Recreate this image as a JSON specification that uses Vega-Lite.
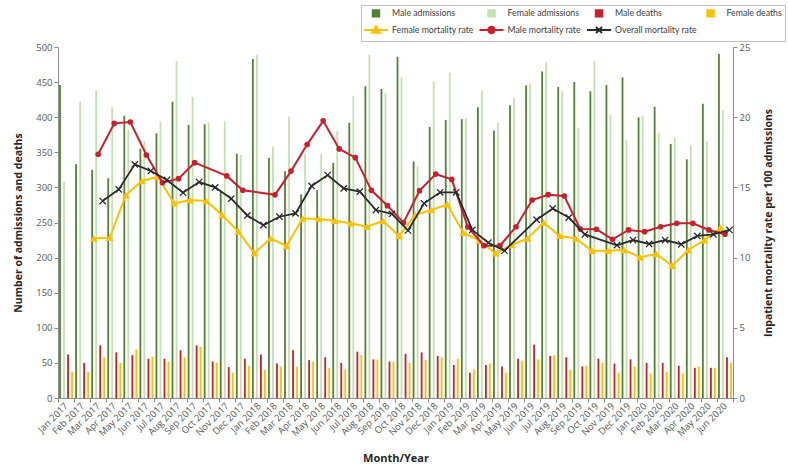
{
  "$schema": "https://vega.github.io/schema/vega-lite/v6.json",
  "width": 675,
  "height": 351,
  "autosize": {"type": "none"},
  "padding": {"left": 58, "top": 47, "right": 55, "bottom": 75},
  "background": "white",
  "config": {
    "font": "Open Sans",
    "view": {"stroke": null},
    "axis": {
      "labelFont": "Open Sans",
      "labelFontSize": 9.5,
      "labelColor": "#595959",
      "titleFont": "Open Sans",
      "titleFontSize": 10.5,
      "titleFontWeight": "bold",
      "titleColor": "#262626",
      "domainColor": "#8c8c8c",
      "tickColor": "#8c8c8c",
      "tickSize": 4,
      "grid": false
    }
  },
  "datasets": {
    "d": [
      {"month": "Jan 2017", "Male admissions": 446, "Female admissions": 308, "Male deaths": 62, "Female deaths": 37, "Female mortality rate": null, "Male mortality rate": null, "Overall mortality rate": null},
      {"month": "Feb 2017", "Male admissions": 333, "Female admissions": 422, "Male deaths": 50, "Female deaths": 37, "Female mortality rate": null, "Male mortality rate": null, "Overall mortality rate": null},
      {"month": "Mar 2017", "Male admissions": 325, "Female admissions": 438, "Male deaths": 75, "Female deaths": 58, "Female mortality rate": 11.37, "Male mortality rate": 17.36, "Overall mortality rate": 14.03},
      {"month": "Apr 2017", "Male admissions": 313, "Female admissions": 414, "Male deaths": 65, "Female deaths": 50, "Female mortality rate": 11.42, "Male mortality rate": 19.56, "Overall mortality rate": 14.86},
      {"month": "May 2017", "Male admissions": 402, "Female admissions": 382, "Male deaths": 61, "Female deaths": 69, "Female mortality rate": 14.46, "Male mortality rate": 19.66, "Overall mortality rate": 16.64},
      {"month": "Jun 2017", "Male admissions": 355, "Female admissions": 366, "Male deaths": 56, "Female deaths": 59, "Female mortality rate": 15.46, "Male mortality rate": 17.31, "Overall mortality rate": 16.17},
      {"month": "Jul 2017", "Male admissions": 377, "Female admissions": 394, "Male deaths": 56, "Female deaths": 52, "Female mortality rate": 15.76, "Male mortality rate": 15.34, "Overall mortality rate": 15.53},
      {"month": "Aug 2017", "Male admissions": 422, "Female admissions": 480, "Male deaths": 68, "Female deaths": 58, "Female mortality rate": 13.87, "Male mortality rate": 15.62, "Overall mortality rate": 14.62},
      {"month": "Sep 2017", "Male admissions": 389, "Female admissions": 429, "Male deaths": 75, "Female deaths": 73, "Female mortality rate": 14.1, "Male mortality rate": 16.76, "Overall mortality rate": 15.38},
      {"month": "Oct 2017", "Male admissions": 390, "Female admissions": 392, "Male deaths": 52, "Female deaths": 50, "Female mortality rate": 14.03, "Male mortality rate": null, "Overall mortality rate": 15.0},
      {"month": "Nov 2017", "Male admissions": 294, "Female admissions": 394, "Male deaths": 44, "Female deaths": 36, "Female mortality rate": 13.03, "Male mortality rate": 15.82, "Overall mortality rate": 14.2},
      {"month": "Dec 2017", "Male admissions": 348, "Female admissions": 346, "Male deaths": 56, "Female deaths": 46, "Female mortality rate": 11.85, "Male mortality rate": 14.8, "Overall mortality rate": 13.0},
      {"month": "Jan 2018", "Male admissions": 483, "Female admissions": 489, "Male deaths": 62, "Female deaths": 40, "Female mortality rate": 10.31, "Male mortality rate": null, "Overall mortality rate": 12.31},
      {"month": "Feb 2018", "Male admissions": 342, "Female admissions": 358, "Male deaths": 49, "Female deaths": 45, "Female mortality rate": 11.37, "Male mortality rate": 14.47, "Overall mortality rate": 12.91},
      {"month": "Mar 2018", "Male admissions": 323, "Female admissions": 401, "Male deaths": 68, "Female deaths": 45, "Female mortality rate": 10.83, "Male mortality rate": 16.16, "Overall mortality rate": 13.15},
      {"month": "Apr 2018", "Male admissions": 290, "Female admissions": 348, "Male deaths": 54, "Female deaths": 52, "Female mortality rate": 12.8, "Male mortality rate": 18.05, "Overall mortality rate": 15.1},
      {"month": "May 2018", "Male admissions": 296, "Female admissions": 348, "Male deaths": 58, "Female deaths": 43, "Female mortality rate": 12.75, "Male mortality rate": 19.74, "Overall mortality rate": 15.88},
      {"month": "Jun 2018", "Male admissions": 335, "Female admissions": 380, "Male deaths": 50, "Female deaths": 41, "Female mortality rate": 12.63, "Male mortality rate": 17.74, "Overall mortality rate": 14.93},
      {"month": "Jul 2018", "Male admissions": 392, "Female admissions": 430, "Male deaths": 66, "Female deaths": 61, "Female mortality rate": 12.44, "Male mortality rate": 17.12, "Overall mortality rate": 14.7},
      {"month": "Aug 2018", "Male admissions": 444, "Female admissions": 489, "Male deaths": 55, "Female deaths": 55, "Female mortality rate": 12.2, "Male mortality rate": 14.79, "Overall mortality rate": 13.39},
      {"month": "Sep 2018", "Male admissions": 440, "Female admissions": 435, "Male deaths": 52, "Female deaths": 52, "Female mortality rate": 12.61, "Male mortality rate": 13.7, "Overall mortality rate": 13.11},
      {"month": "Oct 2018", "Male admissions": 486, "Female admissions": 457, "Male deaths": 63, "Female deaths": 50, "Female mortality rate": 11.54, "Male mortality rate": 12.49, "Overall mortality rate": 11.93},
      {"month": "Nov 2018", "Male admissions": 337, "Female admissions": 330, "Male deaths": 65, "Female deaths": 54, "Female mortality rate": 13.05, "Male mortality rate": 14.77, "Overall mortality rate": 13.87},
      {"month": "Dec 2018", "Male admissions": 386, "Female admissions": 451, "Male deaths": 60, "Female deaths": 58, "Female mortality rate": 13.39, "Male mortality rate": 15.95, "Overall mortality rate": 14.65},
      {"month": "Jan 2019", "Male admissions": 396, "Female admissions": 463, "Male deaths": 47, "Female deaths": 56, "Female mortality rate": 13.79, "Male mortality rate": 15.57, "Overall mortality rate": 14.65},
      {"month": "Feb 2019", "Male admissions": 397, "Female admissions": 399, "Male deaths": 36, "Female deaths": 41, "Female mortality rate": 11.77, "Male mortality rate": 12.18, "Overall mortality rate": 11.97},
      {"month": "Mar 2019", "Male admissions": 414, "Female admissions": 438, "Male deaths": 47, "Female deaths": 49, "Female mortality rate": 11.21, "Male mortality rate": 10.85, "Overall mortality rate": 11.06},
      {"month": "Apr 2019", "Male admissions": 381, "Female admissions": 392, "Male deaths": 45, "Female deaths": 36, "Female mortality rate": 10.31, "Male mortality rate": 10.85, "Overall mortality rate": 10.49},
      {"month": "May 2019", "Male admissions": 417, "Female admissions": 428, "Male deaths": 56, "Female deaths": 53, "Female mortality rate": 10.9, "Male mortality rate": 12.2, "Overall mortality rate": null},
      {"month": "Jun 2019", "Male admissions": 445, "Female admissions": 448, "Male deaths": 76, "Female deaths": 55, "Female mortality rate": 11.37, "Male mortality rate": 14.1, "Overall mortality rate": 12.7},
      {"month": "Jul 2019", "Male admissions": 465, "Female admissions": 478, "Male deaths": 60, "Female deaths": 61, "Female mortality rate": 12.49, "Male mortality rate": 14.48, "Overall mortality rate": 13.5},
      {"month": "Aug 2019", "Male admissions": 443, "Female admissions": 437, "Male deaths": 58, "Female deaths": 40, "Female mortality rate": 11.54, "Male mortality rate": 14.39, "Overall mortality rate": 12.85},
      {"month": "Sep 2019", "Male admissions": 450, "Female admissions": 385, "Male deaths": 45, "Female deaths": 46, "Female mortality rate": 11.37, "Male mortality rate": 12.03, "Overall mortality rate": 11.65},
      {"month": "Oct 2019", "Male admissions": 437, "Female admissions": 480, "Male deaths": 56, "Female deaths": 50, "Female mortality rate": 10.49, "Male mortality rate": 12.02, "Overall mortality rate": null},
      {"month": "Nov 2019", "Male admissions": 446, "Female admissions": 403, "Male deaths": 49, "Female deaths": 36, "Female mortality rate": 10.49, "Male mortality rate": 11.3, "Overall mortality rate": 10.88},
      {"month": "Dec 2019", "Male admissions": 457, "Female admissions": 367, "Male deaths": 55, "Female deaths": 45, "Female mortality rate": 10.54, "Male mortality rate": 11.97, "Overall mortality rate": 11.25},
      {"month": "Jan 2020", "Male admissions": 400, "Female admissions": 402, "Male deaths": 50, "Female deaths": 35, "Female mortality rate": 10.02, "Male mortality rate": 11.85, "Overall mortality rate": 10.97},
      {"month": "Feb 2020", "Male admissions": 415, "Female admissions": 378, "Male deaths": 50, "Female deaths": 37, "Female mortality rate": 10.26, "Male mortality rate": 12.2, "Overall mortality rate": 11.25},
      {"month": "Mar 2020", "Male admissions": 362, "Female admissions": 371, "Male deaths": 46, "Female deaths": 35, "Female mortality rate": 9.42, "Male mortality rate": 12.44, "Overall mortality rate": 10.95},
      {"month": "Apr 2020", "Male admissions": 340, "Female admissions": 360, "Male deaths": 43, "Female deaths": 45, "Female mortality rate": 10.54, "Male mortality rate": 12.44, "Overall mortality rate": 11.54},
      {"month": "May 2020", "Male admissions": 419, "Female admissions": 366, "Male deaths": 43, "Female deaths": 43, "Female mortality rate": 11.25, "Male mortality rate": 11.97, "Overall mortality rate": 11.66},
      {"month": "Jun 2020", "Male admissions": 490, "Female admissions": 410, "Male deaths": 58, "Female deaths": 50, "Female mortality rate": 12.13, "Male mortality rate": 11.66, "Overall mortality rate": 11.97}
    ]
  },
  "data": {"name": "d"},
  "layer": [
    {
      "transform": [{"fold": ["Male admissions", "Female admissions", "Male deaths", "Female deaths"], "as": ["key", "value"]}],
      "mark": {"type": "bar"},
      "encoding": {
        "x": {
          "field": "month", "type": "ordinal",
          "scale": {
            "domain": ["Jan 2017","Feb 2017","Mar 2017","Apr 2017","May 2017","Jun 2017","Jul 2017","Aug 2017","Sep 2017","Oct 2017","Nov 2017","Dec 2017","Jan 2018","Feb 2018","Mar 2018","Apr 2018","May 2018","Jun 2018","Jul 2018","Aug 2018","Sep 2018","Oct 2018","Nov 2018","Dec 2018","Jan 2019","Feb 2019","Mar 2019","Apr 2019","May 2019","Jun 2019","Jul 2019","Aug 2019","Sep 2019","Oct 2019","Nov 2019","Dec 2019","Jan 2020","Feb 2020","Mar 2020","Apr 2020","May 2020","Jun 2020"],
            "paddingInner": 0, "paddingOuter": 0
          },
          "axis": {
            "title": "Month/Year",
            "labelAngle": -45,
            "labelAlign": "right",
            "labelBaseline": "middle",
            "labelPadding": 2,
            "tickBand": "extent",
            "titlePadding": 15,
            "titleFontSize": 11
          }
        },
        "xOffset": {
          "field": "key", "type": "nominal",
          "scale": {"domain": ["Male admissions", "Female admissions", "Male deaths", "Female deaths"], "paddingInner": 0.55, "paddingOuter": 0.275}
        },
        "y": {
          "field": "value", "type": "quantitative",
          "scale": {"domain": [0, 500], "nice": false},
          "axis": {"title": "Number of admissions and deaths", "values": [0, 50, 100, 150, 200, 250, 300, 350, 400, 450, 500], "titlePadding": 12}
        },
        "color": {
          "field": "key", "type": "nominal",
          "scale": {
            "domain": ["Male admissions", "Female admissions", "Male deaths", "Female deaths", "Female mortality rate", "Male mortality rate", "Overall mortality rate"],
            "range": ["#548235", "#c5e0b4", "#c9202f", "#ffc000", "#ffc000", "#c9202f", "#2b2b2b"]
          },
          "legend": {
            "title": null,
            "orient": "none",
            "legendX": 303,
            "legendY": -42,
            "columns": 4,
            "direction": "horizontal",
            "gridAlign": "each",
            "columnPadding": 1.5,
            "rowPadding": 1,
            "padding": 3,
            "labelOffset": 11,
            "labelFont": "Lato",
            "labelFontSize": 8.75,
            "labelColor": "#404040",
            "strokeColor": "#bfbfbf",
            "fillColor": "white",
            "symbolOffset": 7,
            "symbolSize": 64,
            "symbolStrokeWidth": 2,
            "encode": {
              "symbols": {
                "update": {
                  "shape": {"signal": "datum.value == 'Female mortality rate' ? 'M-3,0H3M0,-0.9L1,0.7L-1,0.7Z' : datum.value == 'Male mortality rate' ? 'M-3,0H3M-0.8,0A0.8,0.8,0,1,1,0.8,0A0.8,0.8,0,1,1,-0.8,0Z' : datum.value == 'Overall mortality rate' ? 'M-3,0H3M-0.75,-0.75L0.75,0.75M-0.75,0.75L0.75,-0.75' : 'M-0.8,-0.8H0.8V0.8H-0.8Z'"},
                  "fill": {"signal": "scale('color', datum.value)"},
                  "stroke": {"signal": "scale('color', datum.value)"},
                  "opacity": {"value": 1}
                }
              }
            }
          }
        }
      }
    },
    {
      "transform": [{"fold": ["Female mortality rate", "Male mortality rate", "Overall mortality rate"], "as": ["rkey", "rate"]}],
      "encoding": {
        "x": {"field": "month", "type": "ordinal"},
        "y": {
          "field": "rate", "type": "quantitative",
          "scale": {"domain": [0, 25], "nice": false},
          "axis": {"orient": "right", "title": "Inpatient mortality rate per 100 admissions", "values": [0, 5, 10, 15, 20, 25], "titleAngle": 270, "titlePadding": 24}
        },
        "color": {"field": "rkey", "type": "nominal"}
      },
      "layer": [
        {
          "transform": [{"filter": "datum.rkey == 'Female mortality rate' && isValid(datum.rate)"}],
          "mark": {"type": "line", "strokeWidth": 2, "xOffset": -4.5, "point": {"shape": "triangle-up", "size": 60, "filled": true, "xOffset": -4.5, "opacity": 1}}
        },
        {
          "transform": [{"filter": "datum.rkey == 'Male mortality rate' && isValid(datum.rate)"}],
          "mark": {"type": "line", "strokeWidth": 2, "point": {"shape": "circle", "size": 32, "filled": true, "opacity": 1}}
        },
        {
          "transform": [{"filter": "datum.rkey == 'Overall mortality rate' && isValid(datum.rate)"}],
          "mark": {"type": "line", "strokeWidth": 1.8, "xOffset": 4.5, "point": {"shape": "M-1,-1L1,1M-1,1L1,-1", "size": 40, "filled": false, "strokeWidth": 1.3, "xOffset": 4.5, "opacity": 1}}
        }
      ]
    }
  ],
  "resolve": {"scale": {"y": "independent"}}
}
